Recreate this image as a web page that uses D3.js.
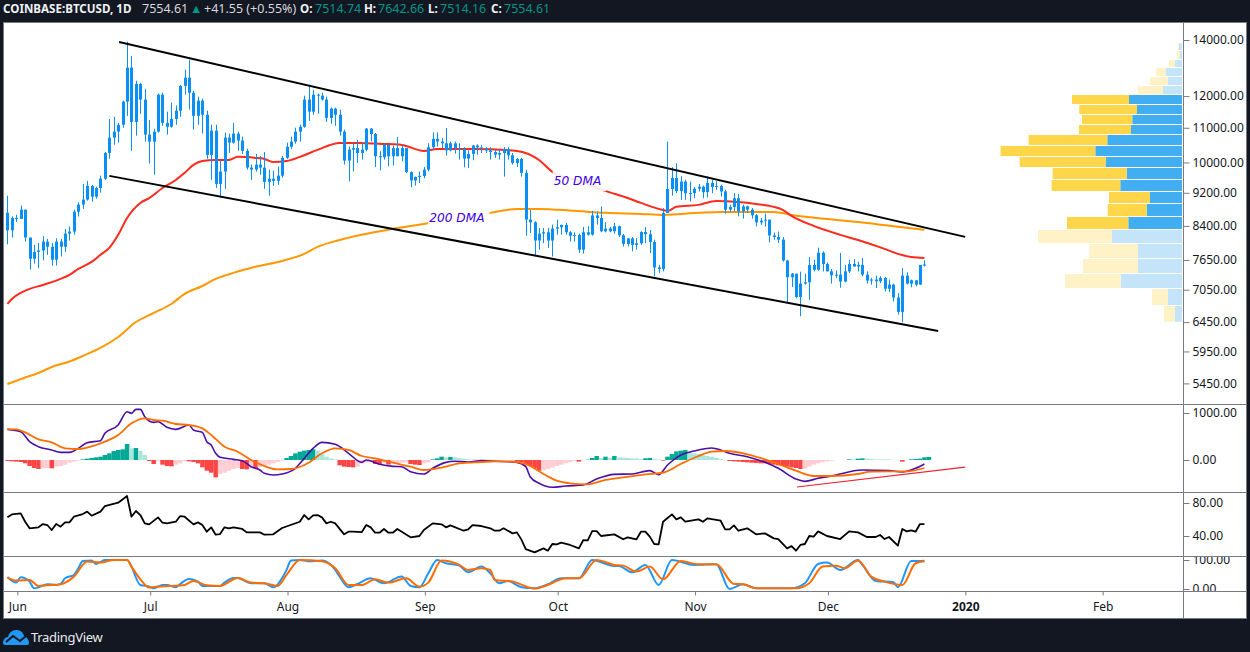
<!DOCTYPE html>
<html>
<head>
<meta charset="utf-8">
<script src="https://d3js.org/d3.v7.min.js"></script>
<style>
  html, body { margin: 0; padding: 0; background: #131722; }
  text { font-family: "Noto Sans", sans-serif; }
</style>
</head>
<body>
<div id="chart-area"></div>
<script>
const WIDTH = 1250
const HEIGHT = 652

// Daily candles, one entry per day from the first bar on
const FIRST_BAR = Date.UTC(2019, 4, 30)
const firstOpen = 8711
const closes = [8300,8588,8564,8784,8136,7676,7822,7852,8046,7934,7656,8046,7934,8225,8270,8735,8907,9030,9375,9103,9324,9564,10265,10707,10884,11091,11820,12977,11179,12410,11885,10796,10589,10884,12046,11150,11032,11270,11529,12340,12623,12111,11367,11852,11400,10210,10914,9427,9752,10707,10560,10825,10619,10324,9860,9806,9941,9860,9481,9564,9508,9644,10129,10442,10589,10884,11032,11885,11497,12046,12014,11885,11303,11594,11400,10884,
  10052,10357,10403,10264,10357,10975,10814,10172,10145,10495,10172,10403,10172,10403,9739,9518,9611,9637,9803,10430,10672,10592,10541,10338,10541,10403,10375,10108,10237,10476,10421,10393,10338,10292,10218,10264,10375,10200,9988,10098,9720,8547,8485,8070,8224,8255,8070,8339,8370,8424,8255,8178,8193,7869,8255,8201,8646,8585,8278,8339,8278,8393,8186,7995,8117,7974,8009,8262,
  8212,8038,7494,7461,8706,9296,9584,9243,9488,9191,9191,9305,9357,9217,9453,9348,9374,9235,8785,8849,9064,8745,8865,8785,8650,8482,8522,8546,8183,8147,8089,7638,7295,7368,6911,7169,7195,7547,7447,7805,7567,7414,7335,7348,7209,7414,7567,7514,7547,7348,7229,7249,7215,7282,7069,7149,6899,6633,7328,7169,7235,7149,7547,7554.61]
const highs = [9128,8621,8662,8883,8784,8136,7978,8016,8165,8106,8016,8121,8106,8330,8390,8784,8964,9427,9508,9402,9357,9644,10294,11270,11335,11150,11852,13937,13403,12517,12446,12240,11238,10973,12079,12111,11497,11788,11691,12375,12907,13261,12176,11982,11917,11529,11091,11091,10048,10855,10825,11150,10884,10737,10383,9941,10237,10183,10294,9806,9779,9887,10183,10560,10737,11002,11091,12014,12375,12208,12079,12111,11982,11626,11626,11561,
  10945,10449,10541,10642,10541,10995,10995,10844,10310,10541,10495,10467,10723,10495,10264,9757,9619,9757,9877,10541,10864,10864,10692,10995,10592,10592,10541,10430,10338,10495,10513,10495,10430,10430,10338,10357,10430,10430,10264,10126,10126,9803,8777,8508,8355,8355,8355,8431,8547,8431,8470,8278,8255,8224,8378,8393,8754,8739,8861,8485,8378,8470,8408,8216,8124,8147,8124,8278,
  8371,8307,8089,7547,8825,10589,9871,9976,9627,9540,9488,9348,9427,9383,9627,9540,9496,9409,9278,8905,9191,9174,8905,8881,8825,8682,8586,8690,8546,8249,8271,8147,7653,7381,7368,7408,7368,7711,7653,7914,7834,7595,7461,7434,7798,7547,7653,7668,7616,7689,7414,7282,7328,7315,7302,7249,7169,6983,7481,7394,7249,7235,7547,7642.66]
const lows = [7986,8136,8494,8564,8046,7451,7574,7478,7642,7758,7533,7533,7724,7822,8068,8203,8621,8801,9005,8981,9054,9202,9536,10102,10501,10560,11002,11367,10324,10766,11432,10589,9968,9671,10855,11061,10796,11002,11091,11335,12046,11561,10943,11091,10825,10102,9536,9324,9079,9300,10265,10530,10324,10237,9806,9536,9752,9671,9300,9128,9375,9402,9590,10102,10383,10530,10589,11002,11208,11400,11432,11852,11179,11120,11061,10766,
  9942,9493,9757,9988,10080,10310,10592,9877,9785,10080,9896,9914,10172,10034,9711,9341,9383,9451,9577,9757,10357,10449,10403,10191,10310,10246,10080,9868,9850,10061,10218,10264,10264,10080,10126,10080,9619,10080,9942,9877,9619,8178,8239,7729,7869,8009,7904,7722,8201,8201,8201,8047,8047,7799,7785,8178,8178,8431,8255,8255,8255,8224,8147,7939,7939,7834,7869,7974,
  8016,7798,7315,7381,7414,8706,9130,9191,9024,9024,8984,9064,9235,9064,9080,9191,9278,9104,8690,8729,8745,8626,8570,8706,8570,8387,8427,8387,8031,8089,8016,7616,6784,7103,6887,6554,7149,6857,7414,7427,7414,7414,7169,7282,7089,7195,7381,7514,7414,7315,7169,7149,7083,7182,7016,7003,6826,6584,6445,7149,7096,7116,7149,7514.16]

// Moving averages, read at the bars listed in the *Bars arrays
const ma50Bars = [0,1,3,5,8,12,14,16,19,21,23,25,27,30,32,35,38,40,42,44,47,50,52,56,58,60,63,66,70,75,79,85,89,94,97,105,115,120,123,129,135,140,143,147,149,151,156,160,165,169,173,175,177,182,188,192,198,201,204,207]
const ma50Values = [6780,6873,6988,7065,7143,7262,7344,7466,7609,7759,7909,8197,8586,8948,9069,9322,9530,9720,9935,10040,10069,10069,10155,10126,10098,10015,10040,10155,10351,10552,10552,10523,10494,10322,10380,10380,10322,10069,9745,9505,9250,9069,8948,8803,8755,8852,8900,8997,8973,8924,8852,8780,8635,8400,8197,8082,7887,7780,7714,7693]
const ma200Bars = [0,4,7,10,14,17,21,25,29,33,37,40,44,47,51,56,62,67,70,75,87,94,109,115,120,128,135,143,148,156,161,173,177,185,194,201,207]
const ma200Values = [5441,5540,5608,5701,5788,5876,6007,6191,6451,6613,6779,6968,7122,7262,7384,7507,7630,7780,7930,8082,8333,8446,8707,8803,8803,8755,8707,8682,8658,8707,8730,8730,8658,8561,8470,8379,8311]

// Drawn trend lines, bar position and price at both ends
const upperChannelBars = [25.2, 216.2]
const upperChannelPrices = [13923, 8151]
const lowerChannelBars = [23, 210.1]
const lowerChannelPrices = [9638, 6294]

// Visible range volume profile
const profileEdges = [13897,13602,13270,12981,12664,12355,12053,11727,11409,11099,10799,10477,10166,9863,9543,9234,8934,8621,8318,8004,7681,7371,7074,6751,6447]
const profileUp = [3.3,2.3,7,16,14,19,53,45,49.7,51,74.7,86.7,76.3,55.3,61.7,32,35.3,53.7,70,44,44,61.3,14,7]
const profileDown = [1.3,3,6,10,18,25,57,57.7,50.3,52,78.7,94.7,86,74,68.7,41,39,61.3,74,48.7,55,55.7,16,11]
const valueAreaLow = 8318
const valueAreaHigh = 12053

// MACD histogram per bar, then the two lines
const macdHist = [-21,-28,-35,-42,-70,-128,-170,-191,-177,-170,-177,-142,-128,-99,-57,-35,-14,14,28,42,57,71,106,142,191,213,227,340,248,255,191,106,-21,-85,-21,-99,-128,-135,-99,-71,-21,-28,-42,-71,-156,-227,-270,-369,-298,-270,-227,-191,-170,-191,-199,-163,-170,-156,-128,-99,-71,-42,-14,42,85,142,177,199,213,227,199,128,71,35,14,-113,-142,-149,-156,-142,-71,-57,-50,-85,-92,-71,-99,-71,-64,-57,-50,-85,-99,-106,-71,-50,14,35,71,57,64,57,43,28,14,14,11,7,7,7,4,0,0,-4,-7,-28,-50,-85,-128,-170,-227,-220,-191,-163,-128,-99,-71,-43,-21,-35,-7,7,43,85,43,71,50,85,57,50,43,35,35,21,35,43,21,14,-14,71,128,184,199,213,156,142,128,99,85,71,43,21,0,-21,-28,-35,-43,-50,-57,-64,-71,-71,-85,-99,-113,-128,-142,-156,-170,-191,-184,-142,-99,-71,-50,-28,-14,0,0,0,14,14,28,35,28,21,14,14,14,14,0,0,-35,0,14,21,28,57,64]
const macdBars = [0,3,5,7,10,12,14,16,18,21,22,25,27,28,29,30,31,33,34,36,38,41,42,44,45,46,47,48,51,53,55,57,58,60,62,65,67,69,71,74,77,80,81,84,87,89,91,94,96,99,101,104,107,109,115,117,118,120,123,126,130,133,137,141,145,147,149,152,155,159,161,163,167,171,174,178,180,183,186,193,199,202,205,207]
const macdValues = [652,603,390,284,213,163,163,248,369,411,567,744,1028,993,1078,1078,922,801,815,695,652,744,638,588,390,319,142,57,14,-14,-142,-213,-284,-319,-298,-177,35,248,376,333,142,-50,0,-92,-135,-142,-248,-298,-177,-50,-28,-43,-14,-21,-50,-142,-355,-496,-581,-553,-532,-404,-305,-298,-227,-312,-106,106,191,255,213,142,71,-50,-177,-404,-454,-390,-340,-213,-227,-255,-177,-85]
const signalBars = [0,2,4,7,10,13,16,20,22,25,28,31,33,35,38,41,44,46,49,52,55,58,61,64,68,71,74,77,80,83,87,91,94,98,102,107,110,114,118,121,124,127,131,135,139,144,148,152,156,159,162,167,171,174,178,182,186,192,195,200,203,207]
const signalValues = [659,652,588,440,376,248,234,319,390,532,780,886,851,837,766,744,674,532,284,177,0,-128,-199,-191,-57,142,248,213,85,35,-57,-142,-213,-163,-71,-43,-28,-35,-128,-298,-440,-496,-518,-425,-369,-305,-269,-85,85,177,191,121,14,-85,-227,-340,-340,-298,-248,-241,-241,-170]

// RSI
const rsiBars = [0,1,3,4,5,7,8,9,10,11,12,13,14,15,17,18,19,21,22,25,27,28,29,30,31,32,34,35,36,38,39,40,42,43,44,45,46,47,48,49,50,51,53,54,57,58,60,62,66,67,68,69,70,71,72,73,74,76,77,78,80,81,82,83,84,85,86,87,88,89,91,93,94,96,98,99,100,103,104,105,107,109,110,111,112,114,115,116,117,119,121,122,123,124,125,127,129,130,131,132,133,134,137,139,140,142,143,144,145,146,147,148,150,151,152,153,156,157,158,161,162,163,164,165,167,169,171,173,174,176,177,178,179,180,181,182,183,185,188,190,192,194,196,197,198,199,201,202,203,204,205,206,207]
const rsiValues = [62.6,66.2,67.4,57.3,49.3,50.5,54.5,53.3,47.2,54.5,51.3,56.5,56.5,63.4,66.6,69.5,64.6,69.5,76.3,80.4,88.4,63.4,70.3,65.4,55.3,54.1,62.6,56.1,55.3,57.3,64.2,63.4,54.1,56.5,53.3,45.2,50.5,41.6,42.4,50.5,49.3,50.5,48.5,44.4,44.4,41.6,42,49.7,57.3,65.4,60.2,65,65.4,62.6,55.3,57.3,55.3,42,45.2,45.2,44.8,53.3,50.5,44,44,48.5,44,44,48.5,45.2,38.4,40,47.2,55.3,54.1,50.5,52.9,46.4,48,53.3,52.1,49.3,46.4,46.4,49.3,43.2,44.4,35.9,24.2,20.2,25,22.2,30.3,29.9,31.9,29.1,25,35.1,34.7,46,46,40,42,36,38.4,36,45.2,45.2,39.2,30.3,29.9,57.3,66.2,60.2,62.6,57.3,60.2,57.3,61.4,58.5,48,48,52.9,46.4,49.3,42,43.2,37.1,36.3,25,27.8,22.2,29.1,30.3,40,39.2,45.6,40,36.3,45.6,44.4,38.8,38.8,41.2,36.3,38.8,28.3,48.5,45.6,46.8,45.2,54.5,54.5]

// Stochastic RSI
const stochKBars = [0,2,3,5,6,7,9,11,12,13,15,16,17,19,20,22,24,27,30,32,33,35,36,38,39,41,43,44,48,49,51,52,55,58,60,63,64,66,68,71,74,75,77,79,82,85,89,91,93,95,97,99,102,104,107,109,111,113,116,119,122,125,129,132,137,138,141,144,147,150,155,160,163,166,169,177,180,183,185,188,192,193,196,200,201,204,207]
const stochKValues = [40.4,22,40.4,25.5,2.5,6,16.3,14,17.4,37,48.5,71.5,96.7,97.9,86.4,100,100,100,14,8.3,2.5,14,14,6,17.4,34.7,25.5,10.6,10.6,22,38.1,38.1,19.8,19.8,6,65.7,97.9,100,95.6,97.9,65.7,42.7,6,17.4,37,19.8,42.7,10.6,6,54.2,100,88.7,80.6,57.6,77.2,54.2,19.8,27.8,6,2.5,16.3,37,37,100,79.5,79.5,57.6,83,14,100,83,85.2,0,16.3,2.5,2.5,19.8,86.4,91,65.7,100,83,27.8,23.2,6,96.7,97]
const stochDBars = [0,2,5,7,9,12,15,18,21,24,27,28,30,32,34,37,40,42,45,48,52,55,58,61,63,66,71,74,77,80,83,86,90,93,95,98,102,104,107,109,110,114,119,122,126,129,133,137,139,142,145,148,152,156,160,164,166,169,178,181,184,187,189,192,195,198,202,205,207]
const stochDValues = [40.4,29,31.2,10.6,12.9,16.3,42.7,94.4,91,100,100,77.2,33.5,4.8,8.3,10.6,14,27.8,12.9,10.6,38.1,22,19.8,10.6,48.5,100,95.6,71.5,14,14,33.5,22,37,8.3,22,97.9,83,65.7,71.5,65.7,31.2,25.5,1.4,14,37,37,100,83,80.6,60,77.2,33.5,96.7,85.2,85.2,17.4,16.3,2.5,2.5,19.8,77.2,80.6,71.5,97.9,42.7,25.5,14,88.7,95.6]

// Trend line drawn on the MACD pane
const macdTrendBars = [178.2, 216.2]
const macdTrendValues = [-575, -150]

// Axis ticks
const priceTicks = [14000,12000,11000,10000,9200,8400,7650,7050,6450,5950,5450]
const macdTicks = [1000,0]
const rsiTicks = [80,40]
const stochTicks = [100,0]
const timeTicks = [
    { date: Date.UTC(2019, 5, 1), label: "Jun" },
    { date: Date.UTC(2019, 6, 1), label: "Jul" },
    { date: Date.UTC(2019, 7, 1), label: "Aug" },
    { date: Date.UTC(2019, 8, 1), label: "Sep" },
    { date: Date.UTC(2019, 9, 1), label: "Oct" },
    { date: Date.UTC(2019, 10, 1), label: "Nov" },
    { date: Date.UTC(2019, 11, 1), label: "Dec" },
    { date: Date.UTC(2020, 0, 1), label: "2020" },
    { date: Date.UTC(2020, 1, 1), label: "Feb" }
]

const FRAME = { LEFT: 3.5, RIGHT: 1246.5, TOP: 22.5, BOTTOM: 618.5, AXIS: 1183.5 }
const PANES = { PRICE: [22.5, 404.5], MACD: [404.5, 492.5], RSI: [492.5, 556.5], STOCH: [556.5, 591.5] }
const GRID = "#787b86"
const CANDLE = "#0a8ff5"

const svg = d3.select("#chart-area").append("svg")
    .attr("width", WIDTH)
    .attr("height", HEIGHT)
    .style("display", "block")

svg.append("rect")
    .attr("x", FRAME.LEFT).attr("y", FRAME.TOP)
    .attr("width", FRAME.RIGHT - FRAME.LEFT)
    .attr("height", FRAME.BOTTOM - FRAME.TOP)
    .attr("fill", "#fff")
    .attr("stroke", GRID)

// Scales
const x = d3.scaleUtc()
    .domain([Date.UTC(2019, 5, 1), Date.UTC(2020, 0, 1)])
    .range([17.3, 965.3])
const barX = i => x(FIRST_BAR + i * 864e5) - 1
const yPrice = d3.scaleLog().domain([14000, 5450]).range([40, 383.4])
const yMacd = d3.scaleLinear().domain([1000, 0]).range([413, 460])
const yRsi = d3.scaleLinear().domain([80, 40]).range([503, 536])
const yStoch = d3.scaleLinear().domain([100, 0]).range([560, 589])
const xProfile = d3.scaleLinear().domain([0, 181.3]).range([1182, 1000.7])

svg.append("defs").selectAll("clipPath")
    .data(Object.entries(PANES))
    .enter().append("clipPath")
    .attr("id", d => "clip-" + d[0])
    .append("rect")
    .attr("x", 0).attr("width", WIDTH)
    .attr("y", d => d[1][0] + 0.5)
    .attr("height", d => d[1][1] - d[1][0] - 1)

const seriesLine = (g, bars, values, y, color, width, curve) => g.append("path")
    .datum(bars.map((b, i) => [b, values[i]]))
    .attr("fill", "none")
    .attr("stroke", color)
    .attr("stroke-width", width)
    .attr("stroke-linejoin", "round")
    .attr("d", d3.line().curve(curve || d3.curveLinear).x(d => barX(d[0])).y(d => y(d[1])))

// Volume profile
const profile = svg.append("g").attr("clip-path", "url(#clip-PRICE)")
profileUp.forEach((up, i) => {
    const low = profileEdges[i + 1]
    const high = profileEdges[i]
    const active = low >= valueAreaLow && high <= valueAreaHigh
    const top = yPrice(high) + 0.5
    const h = yPrice(low) - yPrice(high) - 1
    profile.append("rect")
        .attr("x", xProfile(up)).attr("y", top)
        .attr("width", xProfile(0) - xProfile(up)).attr("height", h)
        .attr("fill", active ? "#42aef2" : "#c3e4f9")
    profile.append("rect")
        .attr("x", xProfile(up + profileDown[i])).attr("y", top)
        .attr("width", xProfile(up) - xProfile(up + profileDown[i])).attr("height", h)
        .attr("fill", active ? "#ffd54a" : "#fff2c6")
})

// Price pane
const pricePane = svg.append("g").attr("clip-path", "url(#clip-PRICE)")
seriesLine(pricePane, ma200Bars, ma200Values, yPrice, "#ff9800", 2, d3.curveMonotoneX)
seriesLine(pricePane, ma50Bars, ma50Values, yPrice, "#ff2a1c", 2, d3.curveMonotoneX)

const opens = closes.map((c, i) => i === 0 ? firstOpen : closes[i - 1])
closes.forEach((c, i) => {
    const cx = Math.round(barX(i))
    pricePane.append("line")
        .attr("x1", cx + 0.5).attr("x2", cx + 0.5)
        .attr("y1", yPrice(highs[i])).attr("y2", yPrice(lows[i]))
        .attr("stroke", CANDLE)
    const top = yPrice(Math.max(opens[i], c))
    pricePane.append("rect")
        .attr("x", cx - 1).attr("width", 3)
        .attr("y", top)
        .attr("height", Math.max(1, yPrice(Math.min(opens[i], c)) - top))
        .attr("fill", CANDLE)
})

seriesLine(pricePane, upperChannelBars, upperChannelPrices, yPrice, "#000", 2)
seriesLine(pricePane, lowerChannelBars, lowerChannelPrices, yPrice, "#000", 2)

// Moving average labels with their white backing
const maLabel = (bar, price, text) => {
    const t = pricePane.append("text")
        .attr("x", barX(bar))
        .attr("y", yPrice(price))
        .attr("font-size", "12.2px")
        .attr("font-style", "italic")
        .style("font-family", "'DejaVu Sans'")
        .attr("fill", "#3c00e8")
        .text(text)
    const b = t.node().getBBox()
    pricePane.insert("rect", () => t.node())
        .attr("x", b.x - 1).attr("y", b.y - 3)
        .attr("width", b.width + 6).attr("height", b.height + 6)
        .attr("fill", "#fff").attr("fill-opacity", 0.9)
}
maLabel(123.3, 9400, "50 DMA")
maLabel(95.2, 8480, "200 DMA")

// MACD pane
const macdPane = svg.append("g").attr("clip-path", "url(#clip-MACD)")
macdPane.selectAll("rect")
    .data(macdHist)
    .enter().append("rect")
    .attr("x", (d, i) => barX(i) - 2.2)
    .attr("width", 4.5)
    .attr("y", d => yMacd(Math.max(d, 0)))
    .attr("height", d => Math.abs(yMacd(d) - yMacd(0)))
    .attr("fill", (d, i) => {
        const rising = i > 0 && d > macdHist[i - 1]
        if (d >= 0) return rising ? "#00a896" : "#ace5dc"
        return rising ? "#ffcdd2" : "#ff4444"
    })
seriesLine(macdPane, macdBars, macdValues, yMacd, "#4a0fa8", 1.6, d3.curveMonotoneX)
seriesLine(macdPane, signalBars, signalValues, yMacd, "#ff6d00", 1.8, d3.curveMonotoneX)
seriesLine(macdPane, macdTrendBars, macdTrendValues, yMacd, "#f0202e", 1.2)

// RSI pane
const rsiPane = svg.append("g").attr("clip-path", "url(#clip-RSI)")
seriesLine(rsiPane, rsiBars, rsiValues, yRsi, "#000", 1.8)

// Stochastic pane
const stochPane = svg.append("g").attr("clip-path", "url(#clip-STOCH)")
seriesLine(stochPane, stochKBars, stochKValues, yStoch, "#1e96fc", 2, d3.curveMonotoneX)
seriesLine(stochPane, stochDBars, stochDValues, yStoch, "#ff6d00", 2, d3.curveMonotoneX)

// Pane dividers
svg.selectAll(".divider")
    .data([PANES.MACD[0], PANES.RSI[0], PANES.STOCH[0], PANES.STOCH[1]])
    .enter().append("line")
    .attr("class", "divider")
    .attr("x1", FRAME.LEFT).attr("x2", FRAME.RIGHT)
    .attr("y1", d => d).attr("y2", d => d)
    .attr("stroke", GRID)
svg.append("line")
    .attr("x1", FRAME.AXIS).attr("x2", FRAME.AXIS)
    .attr("y1", FRAME.TOP).attr("y2", FRAME.BOTTOM)
    .attr("stroke", GRID)

// Y axes
const yAxis = (scale, ticks, paneName) => {
    const g = svg.append("g")
        .attr("clip-path", "url(#clip-" + paneName + ")")
        .append("g")
        .attr("transform", `translate(${FRAME.AXIS}, 0)`)
        .call(d3.axisRight(scale).tickValues(ticks).tickSize(6).tickPadding(3).tickFormat(d3.format(".2f")))
    g.select(".domain").remove()
    g.selectAll("line").attr("stroke", GRID)
    g.selectAll("text").attr("font-size", "12px").attr("fill", "#131722")
        .style("font-family", "'Noto Sans'")
}
yAxis(yPrice, priceTicks, "PRICE")
yAxis(yMacd, macdTicks, "MACD")
yAxis(yRsi, rsiTicks, "RSI")
yAxis(yStoch, stochTicks, "STOCH")

// X axis
const xAxisCall = d3.axisBottom(x)
    .tickValues(timeTicks.map(d => new Date(d.date)))
    .tickSize(4)
    .tickPadding(7)
    .tickFormat((d, i) => timeTicks[i].label)
const xAxis = svg.append("g")
    .attr("transform", `translate(0, ${PANES.STOCH[1]})`)
    .call(xAxisCall)
xAxis.select(".domain").remove()
xAxis.selectAll("line").attr("stroke", GRID)
xAxis.selectAll("text")
    .attr("font-size", "12px")
    .attr("fill", "#131722")
    .style("font-family", "'Noto Sans'")
    .attr("font-weight", (d, i) => timeTicks[i].label === "2020" ? 700 : 400)

// Header
const header = [
    { x: 3, text: "COINBASE:BTCUSD, 1D", weight: 700, color: "#eef0f3" },
    { x: 142, text: "7554.61", weight: 400, color: "#d6d8df" },
    { x: 190, text: "▲", weight: 400, color: "#009688" },
    { x: 204, text: "+41.55 (+0.55%)", weight: 400, color: "#d6d8df" },
    { x: 300, text: "O:", weight: 700, color: "#eef0f3" },
    { x: 315, text: "7514.74", weight: 400, color: "#009688" },
    { x: 364, text: "H:", weight: 700, color: "#eef0f3" },
    { x: 378, text: "7642.66", weight: 400, color: "#009688" },
    { x: 428, text: "L:", weight: 700, color: "#eef0f3" },
    { x: 440, text: "7514.16", weight: 400, color: "#009688" },
    { x: 491, text: "C:", weight: 700, color: "#eef0f3" },
    { x: 504, text: "7554.61", weight: 400, color: "#009688" }
]
svg.append("g").selectAll("text")
    .data(header)
    .enter().append("text")
    .attr("x", d => d.x)
    .attr("y", 13)
    .attr("font-size", d => d.weight === 700 ? "11.6px" : "12.5px")
    .attr("font-weight", d => d.weight)
    .attr("fill", d => d.color)
    .text(d => d.text)

// TradingView badge
const logo = svg.append("g").attr("transform", "translate(3, 628)")
logo.append("path")
    .attr("d", "M0 15 C0 11 3 9 5 9 C6 5 9 2 13 2 C17 2 20 4 21 8 C24 9 26 12 26 15 C26 16 25 17 24 17 L2 17 C1 17 0 16 0 15 Z")
    .attr("fill", "#2196f3")
logo.append("path")
    .attr("d", "M3 14 L10 8 L17 13 L23 8")
    .attr("fill", "none")
    .attr("stroke", "#131722")
    .attr("stroke-width", 2)
svg.append("text")
    .attr("x", 31)
    .attr("y", 642)
    .attr("font-size", "13px")
    .attr("letter-spacing", "-0.3px")
    .attr("fill", "#e8eaef")
    .text("TradingView")
</script>
</body>
</html>
